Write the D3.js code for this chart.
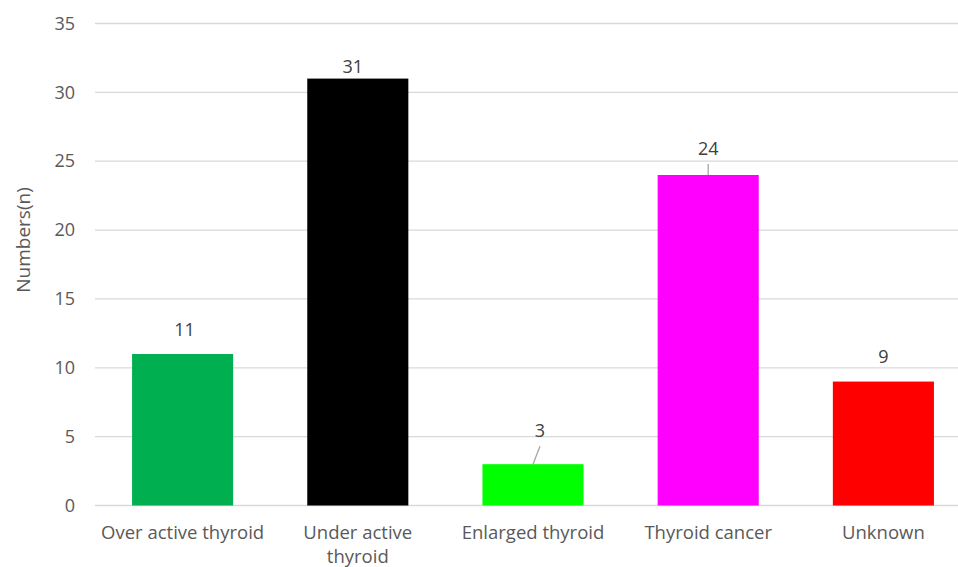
<!DOCTYPE html>
<html lang="en">
<head>
<meta charset="utf-8">
<script src="https://d3js.org/d3.v7.min.js"></script>
<style>
  body { margin: 0; background: #fff; }
  text { font-family: "Open Sans", "Noto Sans", sans-serif; }
</style>
</head>
<body>
<div id="chart"></div>
<script>
// chart data
var categories = [["Over active thyroid"], ["Under active", "thyroid"], ["Enlarged thyroid"], ["Thyroid cancer"], ["Unknown"]];
var values = [11, 31, 3, 24, 9];
var colors = ["#00b050", "#000000", "#00ff00", "#ff00ff", "#ff0000"];
var yTicks = [0, 5, 10, 15, 20, 25, 30, 35];

// hand-moved data labels (pixel nudges, like in the original)
var labelDx = [2, -5, 7, 0, 0];
var labelDy = [-18, -6, -27, -20, -19];
var leader = [false, false, true, true, false];

var width = 958, height = 567;

var svg = d3.select("#chart").append("svg")
    .attr("width", width)
    .attr("height", height);

var x = d3.scaleBand()
    .domain(d3.range(values.length))
    .range([95, 971])
    .paddingInner(0.423)
    .paddingOuter(0.2115);

var y = d3.scaleLinear()
    .domain([0, 35])
    .range([505.5, 23.5]);

// gridlines
svg.append("g").selectAll("line").data(yTicks).enter()
    .append("line")
    .attr("x1", 95).attr("x2", width)
    .attr("y1", y).attr("y2", y)
    .attr("stroke", "#d9d9d9")
    .attr("stroke-width", 1.3);

// y axis
var yAxis = svg.append("g")
    .attr("transform", "translate(95,0)")
    .call(d3.axisLeft(y).tickValues(yTicks).tickSize(0).tickPadding(20));
yAxis.select(".domain").remove();
yAxis.selectAll("text")
    .attr("fill", "#595959")
    .style("font-size", "18px")
    .style("font-family", "Open Sans");

svg.append("text")
    .attr("transform", "translate(30,240) rotate(-90)")
    .attr("text-anchor", "middle")
    .attr("fill", "#595959")
    .style("font-size", "19px")
    .text("Numbers(n)");

// bars
svg.append("g").selectAll("rect").data(values).enter()
    .append("rect")
    .attr("x", function(d, i) { return x(i); })
    .attr("y", function(d) { return y(d); })
    .attr("width", x.bandwidth())
    .attr("height", function(d) { return y(0) - y(d); })
    .attr("fill", function(d, i) { return colors[i]; });

// category labels
var cat = svg.append("g").selectAll("text").data(categories).enter()
    .append("text")
    .attr("text-anchor", "middle")
    .attr("fill", "#595959")
    .style("font-size", "18.5px")
    .attr("x", function(d, i) { return x(i) + x.bandwidth() / 2; })
    .attr("y", 539);
cat.selectAll("tspan").data(function(d) { return d; }).enter()
    .append("tspan")
    .attr("x", function() { return d3.select(this.parentNode).attr("x"); })
    .attr("dy", function(d, i) { return i === 0 ? 0 : 24; })
    .text(function(d) { return d; });

// leader lines
svg.append("g").selectAll("line").data(values).enter()
    .filter(function(d, i) { return leader[i]; })
    .append("line")
    .attr("x1", function(d) { var k = values.indexOf(d); return x(k) + x.bandwidth() / 2; })
    .attr("y1", function(d) { return y(d); })
    .attr("x2", function(d) { var k = values.indexOf(d); return x(k) + x.bandwidth() / 2 + labelDx[k]; })
    .attr("y2", function(d) { var k = values.indexOf(d); return y(d) + labelDy[k] + 9; })
    .attr("stroke", "#a6a6a6")
    .attr("stroke-width", 1.3);

// value labels
svg.append("g").selectAll("text").data(values).enter()
    .append("text")
    .attr("text-anchor", "middle")
    .attr("fill", "#404040")
    .style("font-size", "18px")
    .attr("x", function(d, i) { return x(i) + x.bandwidth() / 2 + labelDx[i]; })
    .attr("y", function(d, i) { return y(d) + labelDy[i]; })
    .text(function(d) { return d; });
</script>
</body>
</html>
